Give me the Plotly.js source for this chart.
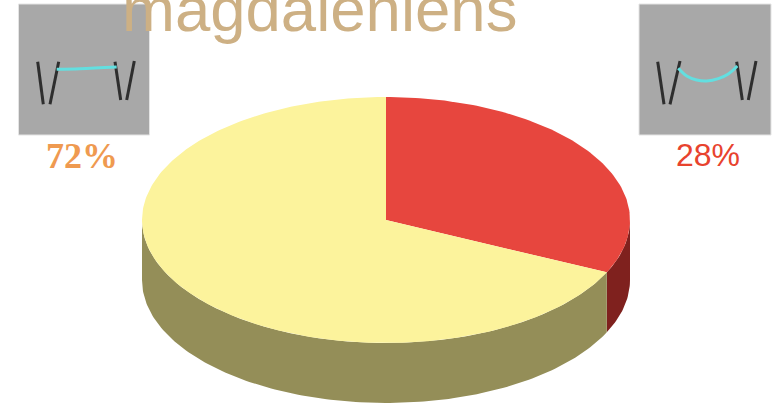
<!DOCTYPE html>
<html>
<head>
<meta charset="utf-8">
<script src="https://cdn.plot.ly/plotly-3.0.1.min.js"></script>
<style>html,body{margin:0;padding:0;background:#fff}#c{width:779px;height:404px}</style>
</head>
<body>
<div id="c"></div>
<script>
// Data
var categories = ['red', 'yellow'];
var labelTexts = ['28%', '72%'];
var drawnShares = [32, 68]; // slice sizes as actually drawn in the reference
var sliceColors = ['#e7463e', '#fcf39c'];
var wallColors = ['#7f211e', '#948e58'];
var titleText = 'magdaleniens';

var leftStrokesX = [[37.7, 43.3], [58.7, 50], [115, 120.7], [134.3, 126.7]];
var leftStrokesY = [[61.7, 104.3], [61.7, 104.3], [61.7, 100], [61, 100]];
var rightStrokesX = [[657.7, 664], [680, 670], [736.7, 742.3], [756, 748.3]];
var rightStrokesY = [[61.7, 104.3], [61, 104.3], [61.7, 100], [61, 100]];
var leftCurveX = [56.7, 80, 116.7];
var leftCurveY = [69.3, 68.7, 67];
var rightCurveX = [678.3, 686.7, 696.7, 706.7, 718.3, 728.3, 737.3];
var rightCurveY = [68.3, 76, 80, 81, 78.7, 74, 66];

var cx = 386, cy = 220, rx = 244, ry = 123, depth = 60;

function pt(deg, dy) {
  var a = deg * Math.PI / 180;
  return [cx + rx * Math.sin(a), cy - ry * Math.cos(a) + (dy || 0)];
}
function arc(from, to, dy) {
  var out = [], n = Math.max(2, Math.ceil(Math.abs(to - from)));
  for (var i = 0; i <= n; i++) out.push(pt(from + (to - from) * i / n, dy));
  return out;
}
function poly(points, color) {
  return {
    type: 'scatter', mode: 'lines', fill: 'toself', fillcolor: color,
    x: points.map(function (p) { return p[0]; }),
    y: points.map(function (p) { return p[1]; }),
    line: { width: 0, color: color }, hoverinfo: 'skip', showlegend: false
  };
}
function stroke(x, y, color, w) {
  return { type: 'scatter', mode: 'lines', x: x, y: y, line: { color: color, width: w, shape: 'spline' }, hoverinfo: 'skip', showlegend: false };
}

var total = drawnShares.reduce(function (a, b) { return a + b; }, 0);
var traces = [];
var start = 0, spans = [];
drawnShares.forEach(function (s) { var e = start + s / total * 360; spans.push([start, e]); start = e; });

// side walls (only the front half, 90..270 degrees clockwise from top, is visible)
spans.forEach(function (sp, i) {
  var from = Math.max(sp[0], 90), to = Math.min(sp[1], 270);
  if (to <= from) return;
  var top = arc(from, to, 0), bottom = arc(to, from, depth);
  traces.push(poly(top.concat(bottom), wallColors[i]));
});
// top faces
spans.forEach(function (sp, i) {
  traces.push(poly([[cx, cy]].concat(arc(sp[0], sp[1], 0)), sliceColors[i]));
});
// thumbnails
leftStrokesX.forEach(function (x, i) { traces.push(stroke(x, leftStrokesY[i], '#2e2e2e', 3)); });
rightStrokesX.forEach(function (x, i) { traces.push(stroke(x, rightStrokesY[i], '#2e2e2e', 3)); });
traces.push(stroke(leftCurveX, leftCurveY, '#63dfe0', 3));
traces.push(stroke(rightCurveX, rightCurveY, '#63dfe0', 3));

var boxStyle = { type: 'rect', xref: 'x', yref: 'y', layer: 'below', fillcolor: '#a8a8a8', line: { color: '#e4e4e4', width: 1 } };
function box(x0, x1, y0, y1) { return Object.assign({}, boxStyle, { x0: x0, x1: x1, y0: y0, y1: y1 }); }

var layout = {
  width: 779, height: 404, margin: { l: 0, r: 0, t: 0, b: 0 },
  paper_bgcolor: '#fff', plot_bgcolor: '#fff', showlegend: false,
  xaxis: { range: [0, 779], visible: false, fixedrange: true },
  yaxis: { range: [404, 0], visible: false, fixedrange: true },
  shapes: [box(18.5, 149.5, 4, 135), box(639, 771, 4, 135)],
  annotations: [
    { text: titleText, xref: 'x', yref: 'y', x: 319, y: 9, xanchor: 'center', yanchor: 'middle', showarrow: false,
      font: { family: 'Liberation Sans, Arial, sans-serif', size: 63.5, color: '#cdb084' } },
    { text: '<b>' + labelTexts[1] + '</b>', xref: 'x', yref: 'y', x: 81.5, y: 155.5, xanchor: 'center', yanchor: 'middle', showarrow: false,
      font: { family: 'Liberation Serif, serif', size: 36, color: '#ef9a50' } },
    { text: labelTexts[0], xref: 'x', yref: 'y', x: 707.5, y: 155, xanchor: 'center', yanchor: 'middle', showarrow: false,
      font: { family: 'Liberation Sans, Arial, sans-serif', size: 32, color: '#e8432e' } }
  ]
};
Plotly.newPlot('c', traces, layout, { displayModeBar: false, staticPlot: true });
</script>
</body>
</html>
